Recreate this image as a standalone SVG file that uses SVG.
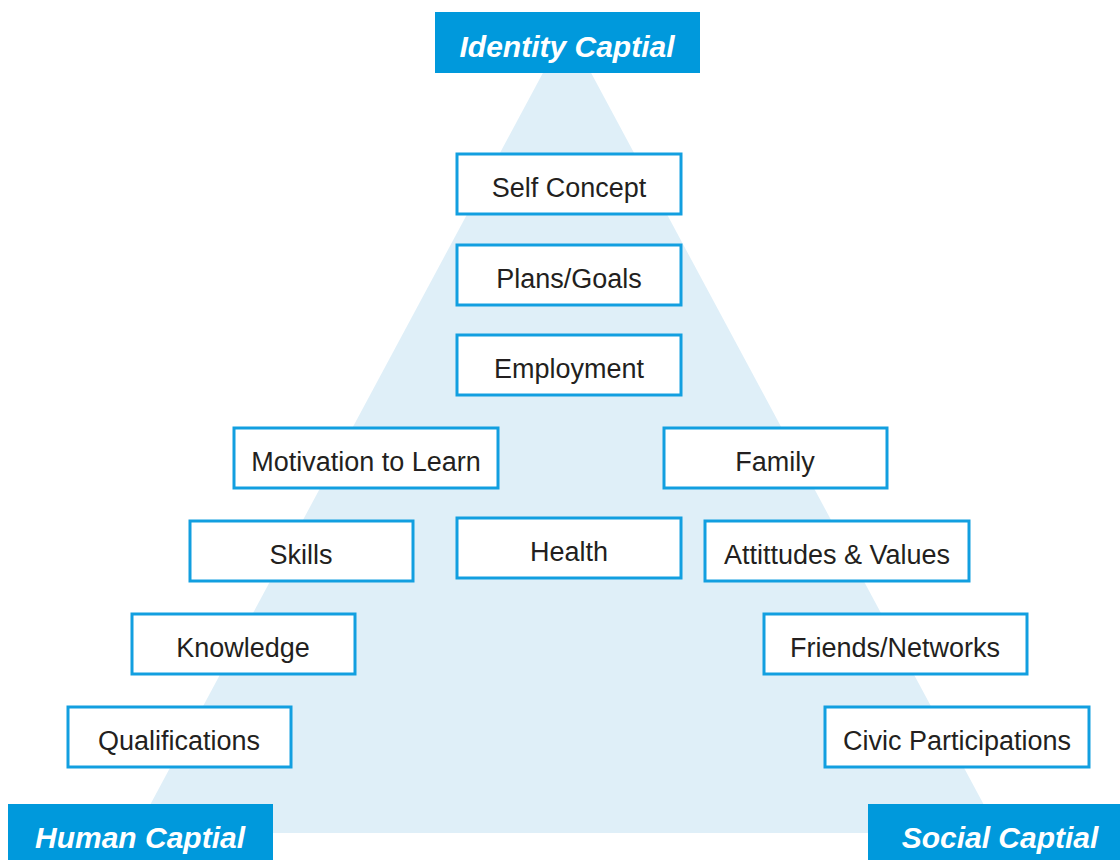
<svg xmlns="http://www.w3.org/2000/svg" width="1120" height="860" viewBox="0 0 1120 860">
<style>
.box{fill:#fff;stroke:#129fe0;stroke-width:3}
.lbl{font-family:"Liberation Sans",Arial,sans-serif;font-size:27px;fill:#231f20;text-anchor:middle}
.hdr{fill:#0099dc}
.htx{font-family:"Liberation Sans",Arial,sans-serif;font-size:30px;font-weight:bold;font-style:italic;fill:#fff;text-anchor:middle}
</style>
<rect width="1120" height="860" fill="#fff"/>
<polygon points="567,28 999,833 135,833" fill="#dfeff8"/>
<g id="connectors"></g>
<g id="identity"><rect class="hdr" x="435" y="12" width="265" height="61"/><text class="htx" x="567" y="57">Identity Captial</text></g>
<g id="human"><rect class="hdr" x="8" y="804" width="265" height="56"/><text class="htx" x="140" y="848">Human Captial</text></g>
<g id="social"><rect class="hdr" x="868" y="804" width="252" height="56"/><text class="htx" x="1000" y="848">Social Captial</text></g>
<g id="selfconcept"><rect class="box" x="457" y="154" width="224" height="60"/><text class="lbl" x="569" y="197">Self Concept</text></g>
<g id="plans"><rect class="box" x="457" y="245" width="224" height="60"/><text class="lbl" x="569" y="288">Plans/Goals</text></g>
<g id="employment"><rect class="box" x="457" y="335" width="224" height="60"/><text class="lbl" x="569" y="378">Employment</text></g>
<g id="motivation"><rect class="box" x="234" y="428" width="264" height="60"/><text class="lbl" x="366" y="471">Motivation to Learn</text></g>
<g id="family"><rect class="box" x="664" y="428" width="223" height="60"/><text class="lbl" x="775" y="471">Family</text></g>
<g id="skills"><rect class="box" x="190" y="521" width="223" height="60"/><text class="lbl" x="301" y="564">Skills</text></g>
<g id="health"><rect class="box" x="457" y="518" width="224" height="60"/><text class="lbl" x="569" y="561">Health</text></g>
<g id="attitudes"><rect class="box" x="705" y="521" width="264" height="60"/><text class="lbl" x="837" y="564">Attittudes &amp; Values</text></g>
<g id="knowledge"><rect class="box" x="132" y="614" width="223" height="60"/><text class="lbl" x="243" y="657">Knowledge</text></g>
<g id="friends"><rect class="box" x="764" y="614" width="263" height="60"/><text class="lbl" x="895" y="657">Friends/Networks</text></g>
<g id="qualifications"><rect class="box" x="68" y="707" width="223" height="60"/><text class="lbl" x="179" y="750">Qualifications</text></g>
<g id="civic"><rect class="box" x="825" y="707" width="264" height="60"/><text class="lbl" x="957" y="750">Civic Participations</text></g>
</svg>
